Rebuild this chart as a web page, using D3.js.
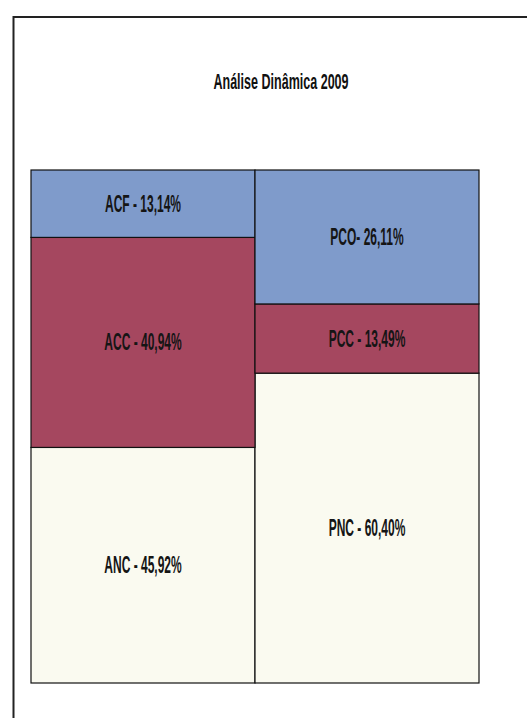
<!DOCTYPE html>
<html>
<head>
<meta charset="utf-8">
<script src="https://cdn.jsdelivr.net/npm/d3@7"></script>
<style>
  html, body { margin: 0; padding: 0; background: #fff; }
  svg { display: block; }
</style>
</head>
<body>
<svg id="chart"></svg>
<script>
const W = 527, H = 718;
const PLOT = { left: 31, right: 479, top: 170, bottom: 683 };

// data
const title = "Análise Dinâmica 2009";
const categories = ["Ativo", "Passivo"];
const layers = ["base", "meio", "topo"];            // bottom -> top
const baseValues = [45.92, 60.40];                  // ANC, PNC
const midValues = [40.94, 13.49];                   // ACC, PCC
const topValues = [13.14, 26.11];                   // ACF, PCO
const baseLabels = ["ANC - 45,92%", "PNC - 60,40%"];
const midLabels = ["ACC - 40,94%", "PCC - 13,49%"];
const topLabels = ["ACF - 13,14%", "PCO- 26,11%"];

const colors = { base: "#fafaf0", meio: "#a5475f", topo: "#7f9bcb" };
const FONT = "'Liberation Sans Narrow', 'Arial Narrow', 'Liberation Sans', Arial, sans-serif";

const rows = categories.map((c, i) => ({
  cat: c,
  base: baseValues[i], meio: midValues[i], topo: topValues[i],
  labels: { base: baseLabels[i], meio: midLabels[i], topo: topLabels[i] }
}));

const svg = d3.select("#chart").attr("width", W).attr("height", H);

// outer chart frame (right and bottom edges fall outside the picture)
svg.append("rect")
  .attr("x", 13.5).attr("y", 17)
  .attr("width", 700).attr("height", 900)
  .attr("fill", "#fff")
  .attr("stroke", "#222").attr("stroke-width", 2);

svg.append("text")
  .attr("transform", "translate(281,89) scale(0.57,1)")
  .attr("text-anchor", "middle")
  .attr("font-family", FONT).attr("font-weight", "bold")
  .attr("font-size", 22).attr("fill", "#111")
  .text(title);

const x = d3.scaleBand()
  .domain(categories)
  .range([PLOT.left, PLOT.right])
  .padding(0);

const y = d3.scaleLinear()
  .domain([0, 100])
  .range([PLOT.bottom, PLOT.top]);

const stacked = d3.stack().keys(layers)(rows);

const g = svg.selectAll("g.layer")
  .data(stacked)
  .join("g")
  .attr("class", "layer")
  .attr("fill", d => colors[d.key]);

g.selectAll("rect")
  .data(d => d)
  .join("rect")
  .attr("x", d => x(d.data.cat))
  .attr("y", d => y(d[1]))
  .attr("width", x.bandwidth())
  .attr("height", d => y(d[0]) - y(d[1]))
  .attr("stroke", "#111")
  .attr("stroke-width", 1.2);

g.selectAll("text")
  .data(d => d.map(p => ({ p, key: d.key })))
  .join("text")
  .attr("transform", d => {
    const cx = x(d.p.data.cat) + x.bandwidth() / 2;
    const cy = (y(d.p[0]) + y(d.p[1])) / 2 + 8;
    return `translate(${cx},${cy}) scale(0.5,1)`;
  })
  .attr("text-anchor", "middle")
  .attr("font-family", FONT).attr("font-weight", "bold")
  .attr("font-size", 24).attr("fill", "#151515")
  .text(d => d.p.data.labels[d.key]);
</script>
</body>
</html>
